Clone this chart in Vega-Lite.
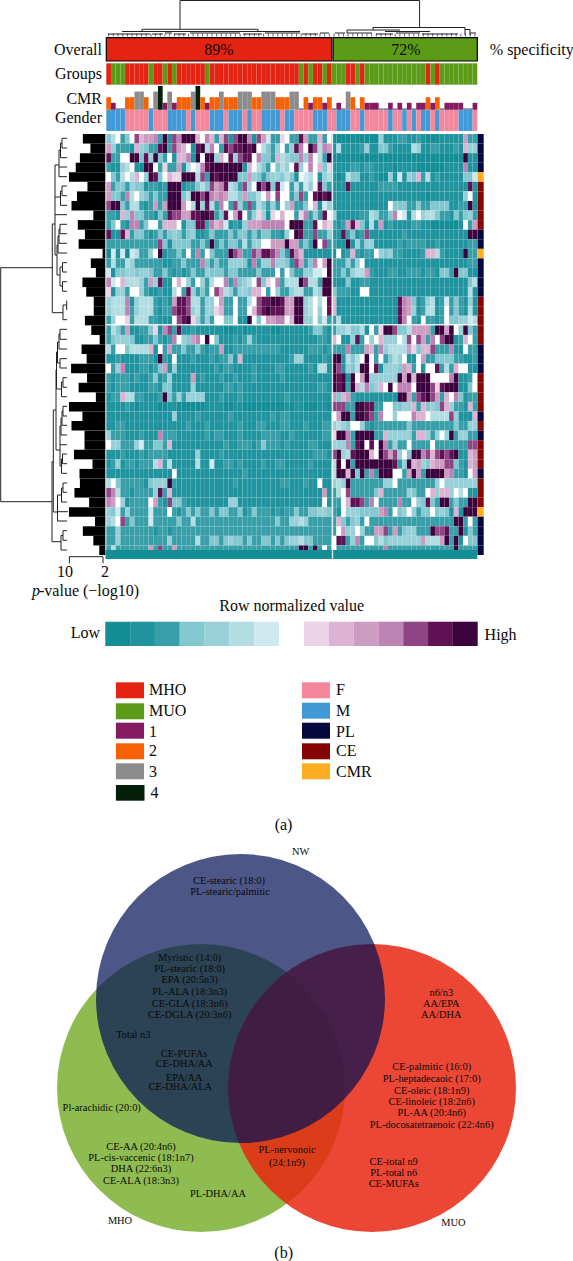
{"$schema":"https://vega.github.io/schema/vega-lite/v6.json","width":573,"height":1261,"padding":0,"autosize":{"type":"fit","contains":"padding"},"background":"#ffffff","config":{"view":{"stroke":null},"text":{"font":"Liberation Serif","fill":"#0a0a0a"}},
"datasets":{
"rows":[
{"r":1,"p":6.8,"cls":"PL","v":[4,6,8,3,4,8,13,10,11,11,12,3,15,2,13,12,15,15,15,10,8,12,10,3,10,13,2,13,15,15,12,2,13,11,7,3,3,9,8,3,3,14,11,3,3,10,3,8,1,1,1,1,1,1,1,1,1,1,5,2,2,2,3,3,2,2,3,2,1,1,1,2,2,2,2,2,11,3,3]},
{"r":2,"p":5.0,"cls":"PL","v":[11,5,3,3,3,2,10,5,4,3,3,14,15,3,13,11,10,8,2,14,15,6,12,8,3,14,13,14,14,15,14,15,8,6,4,3,5,8,3,5,14,12,8,15,13,6,12,11,2,6,2,2,2,2,3,5,2,2,4,4,3,2,2,2,2,6,5,2,2,3,3,2,2,2,3,2,10,5,5]},
{"r":3,"p":7.5,"cls":"PL","v":[14,3,3,8,8,15,15,4,14,5,15,4,3,8,2,10,10,12,2,15,8,15,15,5,10,8,14,5,13,14,14,8,12,4,4,3,10,6,5,4,4,12,5,12,8,6,3,15,1,1,1,1,1,1,1,1,1,1,1,1,1,1,1,1,1,1,1,1,1,1,1,1,1,1,1,1,15,2,2]},
{"r":4,"p":8.5,"cls":"PL","v":[3,2,2,5,6,8,2,1,15,15,8,3,9,3,3,11,2,6,8,7,12,14,15,15,15,15,15,15,15,2,10,8,6,4,3,8,4,6,5,8,14,5,8,12,8,10,4,9,2,2,2,2,3,3,2,3,3,2,2,2,2,1,2,2,2,2,1,1,1,1,1,1,2,2,2,2,12,2,2]},
{"r":5,"p":10.1,"cls":"CMR","v":[8,4,3,6,8,6,10,8,5,15,14,4,8,10,9,9,15,15,15,6,13,3,15,14,15,15,15,15,4,4,11,5,4,3,4,5,5,4,6,4,2,8,7,6,8,2,5,6,2,1,2,6,4,4,2,2,3,2,1,1,5,2,7,2,5,4,10,3,6,2,3,2,2,2,2,2,4,4,7]},
{"r":6,"p":5.7,"cls":"CE","v":[11,3,4,4,3,5,4,4,2,3,3,2,3,15,15,15,2,3,3,4,6,4,13,11,12,14,6,5,3,13,5,8,15,13,15,4,14,7,8,3,6,3,7,5,8,14,4,3,2,2,2,14,2,2,2,2,2,2,3,3,3,3,2,2,2,2,2,2,2,2,2,2,2,2,2,2,2,14,2]},
{"r":7,"p":8.2,"cls":"CE","v":[11,4,4,3,12,6,8,5,4,3,4,3,3,15,15,15,4,6,15,15,13,15,12,11,12,11,6,6,4,11,4,4,6,8,11,8,13,8,8,3,4,13,3,8,14,15,14,15,2,2,2,2,2,2,2,2,2,2,2,2,2,2,2,2,2,2,2,2,1,2,2,2,2,2,2,2,5,8,2]},
{"r":8,"p":9.5,"cls":"CE","v":[13,15,15,4,3,6,6,3,2,3,11,3,11,15,15,15,11,8,6,15,5,14,6,3,12,8,3,13,5,3,13,3,6,4,3,5,3,8,5,11,3,3,4,8,10,2,7,5,2,2,2,2,2,2,2,2,2,2,2,2,8,4,4,4,3,3,4,3,3,4,4,4,4,2,2,3,3,15,2]},
{"r":9,"p":4.3,"cls":"CE","v":[3,3,2,10,5,12,4,4,3,3,2,4,3,14,13,13,11,11,14,14,15,15,14,3,4,14,8,11,14,8,3,5,9,5,2,9,8,10,8,8,3,9,12,3,5,3,14,8,5,2,2,2,2,2,3,3,6,5,3,3,4,12,8,7,2,6,8,5,6,6,4,3,3,2,4,3,4,5,3]},
{"r":10,"p":8.0,"cls":"CE","v":[3,4,8,3,2,12,12,3,4,8,8,3,10,10,10,8,2,4,4,14,14,3,12,10,11,7,2,3,2,5,11,11,11,12,12,12,12,12,8,15,15,15,3,3,14,8,10,9,3,2,3,11,14,10,4,2,6,2,11,2,3,2,2,2,2,3,3,2,2,1,1,1,1,1,1,2,8,3,11]},
{"r":11,"p":6.3,"cls":"PL","v":[14,2,2,14,10,3,4,4,3,2,3,4,3,4,5,4,3,4,5,2,2,3,4,3,3,3,4,3,4,4,3,4,3,4,4,3,3,2,5,8,15,14,3,3,13,3,3,5,2,2,14,3,4,2,3,13,2,2,2,2,2,2,2,3,2,2,2,2,2,2,2,2,2,2,2,2,2,15,15]},
{"r":12,"p":7.8,"cls":"PL","v":[3,3,3,3,3,3,3,3,3,3,3,13,4,2,4,4,4,4,3,3,4,3,15,3,4,3,4,4,3,6,3,5,5,8,8,11,11,11,15,11,11,3,4,3,15,8,13,3,3,2,2,15,2,5,3,5,5,2,2,2,2,2,3,2,3,3,3,3,2,2,3,2,2,2,2,2,2,3,3]},
{"r":13,"p":2.1,"cls":"CMR","v":[1,7,2,7,1,7,6,3,3,5,8,15,2,3,3,4,3,8,3,12,3,8,4,3,3,3,15,13,12,3,3,13,12,14,14,13,12,4,3,14,12,10,2,2,2,2,2,2,2,8,2,3,10,3,2,3,3,8,5,4,5,3,3,2,2,2,2,3,10,10,6,3,2,2,2,2,15,3,3]},
{"r":14,"p":4.9,"cls":"PL","v":[3,6,3,3,6,5,3,3,3,3,3,3,2,2,3,3,4,3,3,3,12,4,3,4,3,3,5,5,5,4,2,12,3,5,5,12,5,5,4,2,13,11,3,4,12,8,11,15,3,3,3,5,3,5,8,2,2,2,2,2,2,2,2,2,2,2,2,2,2,2,2,2,2,2,2,2,2,3,3]},
{"r":15,"p":3.7,"cls":"PL","v":[7,2,4,4,5,5,4,5,5,4,3,3,4,3,2,3,2,3,4,3,3,5,4,4,4,3,4,4,3,3,3,3,4,3,3,3,8,3,8,4,3,3,5,5,7,7,8,15,3,3,4,3,5,6,6,11,3,2,2,2,3,3,2,2,3,3,3,2,3,3,2,4,4,3,15,4,4,2,2]},
{"r":16,"p":6.9,"cls":"PL","v":[12,7,8,10,6,6,6,5,3,11,5,14,2,2,8,10,8,5,3,8,5,3,6,8,8,12,3,12,4,5,6,8,13,4,9,8,12,3,6,6,6,15,13,6,6,3,15,15,2,2,2,4,2,2,3,3,2,2,2,2,2,2,2,2,2,2,2,2,2,2,2,2,2,2,2,2,2,4,6]},
{"r":17,"p":6.0,"cls":"PL","v":[9,2,5,5,3,8,8,5,3,2,2,3,2,2,6,8,3,14,5,3,4,3,8,13,11,6,5,3,5,5,4,10,10,8,3,8,5,3,3,5,6,6,3,3,6,5,15,15,4,3,3,3,2,2,8,8,2,2,2,2,2,2,2,2,2,2,2,2,2,2,2,2,2,2,2,2,2,6,2]},
{"r":18,"p":4.2,"cls":"CE","v":[5,6,6,6,12,2,5,6,6,6,3,2,3,2,11,14,14,13,6,6,3,5,5,8,11,3,3,8,3,3,6,8,13,14,14,15,15,14,11,11,15,15,5,6,8,6,8,14,10,2,2,2,2,2,2,2,2,2,2,2,2,2,14,12,11,4,2,3,5,6,2,3,7,3,4,3,2,5,2]},
{"r":19,"p":4.2,"cls":"CE","v":[5,6,6,6,12,3,5,6,6,6,3,2,3,3,13,14,14,13,5,6,3,5,5,9,10,3,3,8,3,3,8,10,13,14,15,14,14,14,11,11,15,15,5,6,8,5,8,14,10,2,2,2,2,2,2,2,2,2,2,2,2,2,14,12,11,5,2,3,6,6,2,3,8,3,4,3,2,6,2]},
{"r":20,"p":6.3,"cls":"CE","v":[3,5,8,8,9,3,6,6,6,3,3,2,2,2,8,13,14,15,9,5,3,5,3,8,8,4,4,8,2,2,15,8,4,8,11,11,12,12,8,10,15,15,5,5,8,4,7,3,3,6,2,2,2,2,2,2,2,2,2,2,2,2,14,12,8,3,2,8,3,3,2,3,8,4,4,5,5,7,6]},
{"r":21,"p":4.8,"cls":"CE","v":[3,6,4,3,11,2,2,3,3,4,9,2,12,13,3,14,2,2,3,2,2,2,2,2,2,1,1,2,2,1,2,2,2,2,2,1,1,2,2,2,2,2,2,3,4,4,3,2,3,5,5,6,4,4,6,2,8,3,9,15,15,13,4,4,6,11,11,11,11,3,15,15,11,15,8,5,15,4,3]},
{"r":22,"p":2.8,"cls":"CE","v":[3,4,5,5,5,4,2,2,3,3,4,3,2,3,12,8,5,4,11,12,8,15,8,4,2,2,2,3,2,3,5,3,2,2,2,2,2,2,2,2,2,2,2,2,2,3,3,2,10,8,2,2,5,14,3,8,5,8,10,5,5,5,8,6,13,8,13,11,3,12,8,13,15,15,2,3,10,8,3]},
{"r":23,"p":7.1,"cls":"PL","v":[6,3,8,8,4,6,6,6,6,10,2,8,3,11,3,3,4,3,3,4,3,2,3,3,11,2,2,3,3,3,3,3,3,3,3,3,3,2,2,2,2,2,2,3,3,3,2,3,3,3,3,12,3,3,3,11,10,3,12,5,6,6,6,6,11,9,4,10,10,13,3,3,3,12,2,2,8,3,3]},
{"r":24,"p":5.9,"cls":"PL","v":[2,2,3,2,2,2,2,3,3,3,2,15,3,2,8,2,2,2,3,2,2,2,3,2,3,3,4,2,10,2,2,2,2,2,2,2,2,2,2,3,5,5,2,2,2,2,3,2,15,15,2,6,4,6,8,15,8,3,8,3,4,6,5,8,2,2,8,11,3,3,4,4,4,4,3,3,2,2,3]},
{"r":25,"p":9.6,"cls":"PL","v":[8,3,5,12,2,2,2,3,3,2,3,4,11,2,5,2,2,2,2,2,2,2,2,3,2,3,3,2,2,2,2,3,2,2,2,2,3,3,2,2,2,2,2,3,2,6,6,2,15,13,2,5,4,6,15,15,8,14,2,5,5,5,4,11,10,3,8,2,8,8,14,3,6,3,10,8,8,2,2]},
{"r":26,"p":5.8,"cls":"CE","v":[3,2,3,3,3,2,3,2,2,3,4,2,3,5,2,2,2,2,11,2,3,2,2,2,3,2,2,3,2,2,2,3,2,2,2,2,2,3,2,2,2,2,2,2,2,2,2,2,15,14,15,2,15,8,11,15,5,5,5,5,5,5,15,11,15,10,15,15,15,8,8,8,8,12,15,2,2,3,8]},
{"r":27,"p":7.8,"cls":"CE","v":[3,2,3,3,3,2,2,2,2,3,3,2,4,4,2,2,2,2,5,2,2,2,2,2,2,3,3,2,3,2,2,2,2,2,2,2,2,2,2,2,2,2,2,2,2,3,3,2,15,14,15,3,15,10,6,12,4,5,10,8,15,8,12,12,12,8,15,15,15,13,9,14,15,15,15,2,2,4,8]},
{"r":28,"p":3.7,"cls":"CE","v":[2,3,3,10,6,6,3,3,2,2,2,3,15,4,3,5,3,5,5,5,5,2,2,2,3,2,2,2,3,2,2,2,2,2,2,2,2,2,3,2,2,2,2,2,2,2,2,2,11,4,10,11,3,2,2,2,2,2,2,2,2,2,15,15,11,3,13,14,15,13,11,3,10,8,12,4,2,3,3]},
{"r":29,"p":10.1,"cls":"CE","v":[2,2,2,2,3,2,1,2,2,2,2,1,1,2,2,1,1,1,1,1,1,2,2,2,2,1,1,2,2,1,1,1,1,1,1,1,1,1,2,1,2,2,1,1,1,2,2,1,13,13,13,3,3,15,15,14,14,3,3,8,8,4,4,5,5,10,3,10,4,5,4,13,10,5,3,3,2,10,3]},
{"r":30,"p":6.9,"cls":"PL","v":[2,2,2,2,2,2,2,2,2,2,2,2,2,2,5,2,2,2,2,3,2,2,2,2,2,2,3,2,2,2,2,2,2,2,2,3,2,3,3,2,2,2,2,2,2,2,2,2,8,11,15,15,3,15,15,14,13,3,12,8,8,5,8,8,8,12,10,10,8,6,6,6,6,13,5,2,2,2,10]},
{"r":31,"p":9.5,"cls":"CE","v":[2,2,3,3,2,2,2,2,2,2,2,2,2,2,2,2,2,3,2,2,2,3,2,2,2,2,2,2,3,2,2,2,3,3,2,2,2,3,3,2,2,2,3,2,2,2,3,3,5,6,5,4,8,8,5,3,2,3,3,3,3,3,3,3,4,3,3,3,3,3,3,3,3,3,4,3,3,5,5]},
{"r":32,"p":6.4,"cls":"PL","v":[5,3,3,3,2,2,2,3,2,2,2,12,3,3,3,2,2,2,2,2,2,3,2,3,3,2,2,2,3,2,2,2,2,3,3,3,3,2,2,3,2,2,2,2,2,2,3,3,9,15,15,12,3,15,15,15,15,3,3,10,5,5,5,5,5,3,10,10,5,3,5,8,5,15,3,5,5,3,3]},
{"r":33,"p":6.4,"cls":"CE","v":[8,5,5,3,3,3,5,7,3,3,4,4,3,10,2,2,2,2,2,2,2,2,2,2,2,3,2,2,3,3,3,2,3,4,3,3,3,2,3,2,2,2,2,3,3,2,2,2,5,5,5,12,3,14,15,8,14,8,15,12,3,5,3,3,8,3,3,3,3,8,3,3,3,3,3,3,3,13,13]},
{"r":34,"p":8.9,"cls":"CE","v":[2,2,2,3,2,2,2,3,2,3,3,3,3,2,2,2,2,2,2,5,2,2,2,2,3,2,2,2,2,2,2,2,2,2,2,2,2,2,2,2,2,2,2,2,3,3,3,2,13,15,5,6,14,15,15,15,10,8,15,13,11,13,5,8,4,15,15,12,13,10,13,14,13,14,15,2,2,10,11]},
{"r":35,"p":4.5,"cls":"CE","v":[2,3,5,2,3,3,2,3,3,3,6,10,3,6,2,2,2,2,2,6,2,2,7,2,2,3,3,2,3,2,2,2,2,3,2,2,3,3,2,2,2,2,2,3,2,2,2,2,6,15,8,15,3,15,15,15,15,15,15,15,15,14,3,5,15,10,11,5,4,10,11,11,13,13,4,3,2,10,11]},
{"r":36,"p":7.6,"cls":"PL","v":[2,2,2,2,2,2,2,2,2,2,2,2,2,2,8,2,2,2,2,2,2,2,2,2,2,2,2,2,2,3,2,2,2,2,2,2,2,2,2,2,2,2,2,2,2,2,2,2,6,15,15,10,15,4,15,3,12,3,15,15,15,8,8,3,11,15,11,3,15,15,15,15,11,12,3,3,2,8,11]},
{"r":37,"p":7.5,"cls":"CE","v":[6,8,4,3,3,3,3,3,2,4,5,5,5,15,3,2,2,2,2,2,2,2,2,2,2,2,2,3,2,2,2,2,2,2,2,2,2,3,3,2,2,2,3,2,2,8,2,2,5,6,5,15,3,3,3,3,3,3,3,5,5,8,3,3,3,3,3,3,3,3,5,8,5,5,5,5,5,5,5]},
{"r":38,"p":8.8,"cls":"CE","v":[13,12,6,3,3,2,3,3,3,3,5,14,3,10,2,2,2,2,2,2,2,2,2,2,2,2,2,2,2,2,2,2,2,2,2,2,2,2,2,2,2,2,2,2,2,2,11,2,3,6,8,13,3,3,3,3,3,4,10,3,3,3,3,3,5,4,3,3,8,10,5,10,10,5,8,6,8,2,2]},
{"r":39,"p":5.3,"cls":"CE","v":[12,11,8,5,2,3,3,3,3,8,11,3,2,13,4,4,3,2,2,2,2,2,2,2,2,2,5,5,2,2,2,2,2,2,2,2,2,2,2,2,2,2,2,2,2,2,8,2,3,3,8,10,14,14,13,3,12,8,3,3,3,3,12,3,3,8,5,4,14,4,3,15,15,3,4,3,3,15,15]},
{"r":40,"p":10.1,"cls":"CMR","v":[5,4,7,3,5,3,3,3,3,7,3,3,3,8,3,2,3,4,3,4,3,3,4,3,4,4,3,3,4,2,3,4,3,3,3,2,3,2,3,3,4,3,3,4,4,5,5,4,3,2,8,5,5,5,4,4,4,4,11,12,3,8,4,5,8,5,3,4,4,8,4,5,4,2,10,2,15,15,15]},
{"r":41,"p":3.9,"cls":"PL","v":[5,6,8,13,3,4,3,3,3,7,3,3,3,3,3,4,3,3,6,3,3,3,3,3,3,3,3,3,3,3,3,3,3,3,3,3,4,3,3,5,5,6,5,3,3,3,3,3,3,10,4,3,4,5,3,8,3,3,3,3,3,3,3,3,3,3,3,3,3,3,3,3,3,3,15,15,3,8,3]},
{"r":42,"p":6.8,"cls":"PL","v":[3,3,5,3,3,3,3,3,3,3,2,3,3,2,3,3,3,3,3,3,3,3,3,3,3,3,3,3,3,3,3,3,3,3,3,3,3,3,3,3,3,3,3,3,3,3,3,3,3,8,11,5,5,8,5,3,3,11,11,13,3,11,3,4,5,5,3,3,3,15,13,13,14,3,3,15,2,4,3]},
{"r":43,"p":4.3,"cls":"PL","v":[3,3,5,3,3,3,3,3,3,3,3,3,3,5,3,3,3,3,3,6,3,3,4,4,3,4,5,4,4,3,4,3,3,4,4,3,4,3,4,5,5,6,4,4,3,3,3,3,8,14,14,3,5,12,3,8,8,4,6,4,5,5,5,5,5,5,5,11,6,6,6,11,15,3,15,2,8,4,4]},
{"r":44,"p":2.9,"cls":"PL","v":[3,6,3,3,3,3,3,3,3,11,3,13,3,3,11,3,3,3,3,3,3,3,3,3,3,3,3,3,3,3,3,3,3,3,3,3,3,3,3,3,3,15,15,3,15,3,8,3,8,3,3,3,3,3,3,3,3,3,3,12,3,3,3,3,3,3,3,3,3,3,3,3,3,3,15,3,3,3,3]}
],
"cols":[
{"c":1,"g":"MHO","k":2,"s":"M"},{"c":2,"g":"MUO","k":1,"s":"M"},{"c":3,"g":"MUO","k":0,"s":"M"},{"c":4,"g":"MUO","k":0,"s":"M"},{"c":5,"g":"MHO","k":2,"s":"F"},{"c":6,"g":"MHO","k":2,"s":"F"},{"c":7,"g":"MHO","k":3,"s":"F"},{"c":8,"g":"MHO","k":3,"s":"F"},{"c":9,"g":"MHO","k":2,"s":"F"},{"c":10,"g":"MUO","k":0,"s":"M"},
{"c":11,"g":"MHO","k":3,"s":"F"},{"c":12,"g":"MHO","k":4,"s":"F"},{"c":13,"g":"MUO","k":1,"s":"F"},{"c":14,"g":"MHO","k":3,"s":"M"},{"c":15,"g":"MUO","k":1,"s":"M"},{"c":16,"g":"MHO","k":2,"s":"M"},{"c":17,"g":"MHO","k":2,"s":"M"},{"c":18,"g":"MHO","k":2,"s":"F"},{"c":19,"g":"MHO","k":3,"s":"M"},{"c":20,"g":"MHO","k":4,"s":"F"},
{"c":21,"g":"MHO","k":2,"s":"F"},{"c":22,"g":"MUO","k":1,"s":"F"},{"c":23,"g":"MHO","k":2,"s":"M"},{"c":24,"g":"MHO","k":2,"s":"M"},{"c":25,"g":"MHO","k":3,"s":"M"},{"c":26,"g":"MHO","k":2,"s":"F"},{"c":27,"g":"MHO","k":2,"s":"M"},{"c":28,"g":"MHO","k":2,"s":"M"},{"c":29,"g":"MHO","k":3,"s":"M"},{"c":30,"g":"MHO","k":3,"s":"F"},
{"c":31,"g":"MHO","k":3,"s":"M"},{"c":32,"g":"MHO","k":2,"s":"F"},{"c":33,"g":"MHO","k":2,"s":"F"},{"c":34,"g":"MHO","k":3,"s":"M"},{"c":35,"g":"MHO","k":3,"s":"M"},{"c":36,"g":"MHO","k":3,"s":"M"},{"c":37,"g":"MHO","k":2,"s":"M"},{"c":38,"g":"MHO","k":2,"s":"F"},{"c":39,"g":"MHO","k":2,"s":"M"},{"c":40,"g":"MHO","k":3,"s":"M"},
{"c":41,"g":"MHO","k":3,"s":"F"},{"c":42,"g":"MUO","k":0,"s":"F"},{"c":43,"g":"MHO","k":2,"s":"F"},{"c":44,"g":"MUO","k":1,"s":"F"},{"c":45,"g":"MHO","k":2,"s":"M"},{"c":46,"g":"MHO","k":2,"s":"M"},{"c":47,"g":"MUO","k":1,"s":"M"},{"c":48,"g":"MHO","k":2,"s":"F"},{"c":49,"g":"MUO","k":0,"s":"F"},{"c":50,"g":"MUO","k":1,"s":"M"},
{"c":51,"g":"MUO","k":0,"s":"M"},{"c":52,"g":"MHO","k":3,"s":"M"},{"c":53,"g":"MHO","k":2,"s":"F"},{"c":54,"g":"MUO","k":0,"s":"F"},{"c":55,"g":"MHO","k":2,"s":"M"},{"c":56,"g":"MUO","k":1,"s":"F"},{"c":57,"g":"MUO","k":1,"s":"F"},{"c":58,"g":"MUO","k":1,"s":"F"},{"c":59,"g":"MUO","k":0,"s":"F"},{"c":60,"g":"MUO","k":0,"s":"F"},
{"c":61,"g":"MUO","k":1,"s":"M"},{"c":62,"g":"MUO","k":0,"s":"F"},{"c":63,"g":"MUO","k":1,"s":"F"},{"c":64,"g":"MUO","k":0,"s":"M"},{"c":65,"g":"MUO","k":1,"s":"F"},{"c":66,"g":"MUO","k":0,"s":"M"},{"c":67,"g":"MUO","k":1,"s":"F"},{"c":68,"g":"MUO","k":1,"s":"M"},{"c":69,"g":"MHO","k":2,"s":"M"},{"c":70,"g":"MUO","k":1,"s":"F"},
{"c":71,"g":"MHO","k":2,"s":"M"},{"c":72,"g":"MUO","k":0,"s":"F"},{"c":73,"g":"MUO","k":1,"s":"F"},{"c":74,"g":"MUO","k":1,"s":"F"},{"c":75,"g":"MUO","k":1,"s":"F"},{"c":76,"g":"MUO","k":1,"s":"M"},{"c":77,"g":"MUO","k":0,"s":"M"},{"c":78,"g":"MUO","k":0,"s":"M"},{"c":79,"g":"MUO","k":1,"s":"F"}
],
"levels":[{"v":1},{"v":2},{"v":3},{"v":4},{"v":5},{"v":6},{"v":7},{"v":8},{"v":9},{"v":10},{"v":11},{"v":12},{"v":13},{"v":14},{"v":15}],
"boxes":[
{"cat":"MHO","x":115.9,"x2":144,"y":682.3,"y2":698.3},{"cat":"MUO","x":115.9,"x2":144,"y":703.3,"y2":719.3},{"cat":"1","x":115.9,"x2":144,"y":722.7,"y2":738.7},{"cat":"2","x":115.9,"x2":144,"y":743.3,"y2":759.3},{"cat":"3","x":115.9,"x2":144,"y":763.3,"y2":779.3},{"cat":"4","x":115.9,"x2":144.5,"y":785,"y2":800.7},
{"cat":"F","x":302,"x2":330,"y":682.3,"y2":698.3},{"cat":"M","x":302,"x2":330,"y":702.7,"y2":718.7},{"cat":"PL","x":302,"x2":330,"y":722.7,"y2":738.7},{"cat":"CE","x":302,"x2":330,"y":743.3,"y2":759.3},{"cat":"CMR","x":302,"x2":330,"y":763.3,"y2":779.3},
{"cat":"band","x":105.5,"x2":477.3,"y":550,"y2":559}],
"overall":[{"cat":"MHO","x":106.3,"x2":331.8,"y":37.6,"y2":61},{"cat":"MUO","x":333.2,"x2":477.3,"y":37.6,"y2":61}],
"segs":[
{"x":180,"y":0.5,"x2":419.6,"y2":0.5},{"x":180,"y":0.5,"x2":180,"y2":29},{"x":419.6,"y":0.5,"x2":419.6,"y2":27.5},
{"x":142,"y":29.3,"x2":258,"y2":29.3},{"x":142,"y":29.3,"x2":142,"y2":31.5},{"x":258,"y":29.3,"x2":258,"y2":31.5},{"x":122,"y":31.5,"x2":190,"y2":31.5},{"x":190,"y":31.5,"x2":300,"y2":31.5},
{"x":108,"y":34,"x2":150,"y2":34},{"x":152,"y":34,"x2":163,"y2":34},{"x":165,"y":33,"x2":172,"y2":33},{"x":174,"y":34,"x2":186,"y2":34},{"x":190,"y":33,"x2":240,"y2":33},{"x":243,"y":34,"x2":262,"y2":34},{"x":265,"y":33,"x2":300,"y2":33},{"x":302,"y":34,"x2":318,"y2":34},{"x":320,"y":33,"x2":329,"y2":33},
{"x":373,"y":27.5,"x2":465,"y2":27.5},{"x":373,"y":27.5,"x2":373,"y2":30},{"x":347,"y":30,"x2":400,"y2":30},{"x":347,"y":30,"x2":347,"y2":33},{"x":465,"y":27.5,"x2":465,"y2":35},{"x":470,"y":29.5,"x2":470,"y2":35},{"x":465,"y":29.5,"x2":470,"y2":29.5},{"x":385,"y":31.5,"x2":430,"y2":31.5},
{"x":335,"y":33,"x2":345,"y2":33},{"x":347,"y":33,"x2":372,"y2":33},{"x":376,"y":34,"x2":393,"y2":34},{"x":396,"y":33,"x2":420,"y2":33},{"x":422,"y":34,"x2":458,"y2":34},{"x":470,"y":33,"x2":476,"y2":33},
{"x":62,"y":138.3,"x2":67,"y2":138.3},{"x":62,"y":148,"x2":67,"y2":148},{"x":62,"y":138.3,"x2":62,"y2":148},{"x":60.5,"y":143,"x2":62,"y2":143},{"x":60.5,"y":143,"x2":60.5,"y2":157.7},{"x":60.5,"y":157.7,"x2":67,"y2":157.7},{"x":59,"y":150,"x2":60.5,"y2":150},{"x":59,"y":150,"x2":59,"y2":176.7},{"x":59,"y":167,"x2":67,"y2":167},{"x":59,"y":176.7,"x2":67,"y2":176.7},{"x":55,"y":165,"x2":59,"y2":165},{"x":55,"y":165,"x2":55,"y2":255},
{"x":62,"y":186,"x2":67,"y2":186},{"x":62,"y":195.7,"x2":67,"y2":195.7},{"x":62,"y":186,"x2":62,"y2":195.7},{"x":60.5,"y":191,"x2":62,"y2":191},{"x":60.5,"y":191,"x2":60.5,"y2":205.3},{"x":60.5,"y":205.3,"x2":67,"y2":205.3},{"x":55,"y":197,"x2":60.5,"y2":197},{"x":55,"y":214.7,"x2":67,"y2":214.7},
{"x":60,"y":224.3,"x2":67,"y2":224.3},{"x":60,"y":233.7,"x2":67,"y2":233.7},{"x":60,"y":224.3,"x2":60,"y2":233.7},{"x":59,"y":229,"x2":60,"y2":229},{"x":59,"y":229,"x2":59,"y2":243.3},{"x":59,"y":243.3,"x2":67,"y2":243.3},{"x":58,"y":236,"x2":59,"y2":236},{"x":58,"y":236,"x2":58,"y2":253},{"x":58,"y":253,"x2":67,"y2":253},{"x":57,"y":245,"x2":58,"y2":245},{"x":57,"y":245,"x2":57,"y2":275},{"x":55,"y":255,"x2":57,"y2":255},
{"x":62.5,"y":262.7,"x2":67,"y2":262.7},{"x":62.5,"y":272,"x2":67,"y2":272},{"x":62.5,"y":262.7,"x2":62.5,"y2":272},{"x":62.5,"y":281.7,"x2":67,"y2":281.7},{"x":62.5,"y":291.3,"x2":67,"y2":291.3},{"x":62.5,"y":281.7,"x2":62.5,"y2":291.3},{"x":60,"y":267,"x2":62.5,"y2":267},{"x":60,"y":286,"x2":62.5,"y2":286},{"x":60,"y":267,"x2":60,"y2":286},{"x":57,"y":275,"x2":60,"y2":275},
{"x":52.3,"y":224,"x2":55,"y2":224},{"x":52.3,"y":224,"x2":52.3,"y2":312.7},{"x":52.3,"y":312.7,"x2":63,"y2":312.7},{"x":63,"y":305,"x2":63,"y2":319.7},{"x":63,"y":305,"x2":66.7,"y2":305},{"x":66.7,"y":300.7,"x2":66.7,"y2":310},{"x":63,"y":319.7,"x2":67,"y2":319.7},
{"x":60,"y":329.3,"x2":67,"y2":329.3},{"x":60,"y":339.3,"x2":67,"y2":339.3},{"x":60,"y":329.3,"x2":60,"y2":339.3},{"x":59,"y":334,"x2":60,"y2":334},{"x":59,"y":334,"x2":59,"y2":349},{"x":59,"y":349,"x2":67,"y2":349},{"x":60,"y":358.7,"x2":67,"y2":358.7},{"x":60,"y":368,"x2":67,"y2":368},{"x":60,"y":358.7,"x2":60,"y2":368},{"x":57.5,"y":342,"x2":59,"y2":342},{"x":57.5,"y":342,"x2":57.5,"y2":363},{"x":57.5,"y":363,"x2":60,"y2":363},{"x":56.5,"y":352,"x2":57.5,"y2":352},{"x":56.5,"y":352,"x2":56.5,"y2":389},
{"x":63,"y":377.7,"x2":67,"y2":377.7},{"x":63,"y":387.3,"x2":67,"y2":387.3},{"x":63,"y":377.7,"x2":63,"y2":387.3},{"x":61.5,"y":382,"x2":63,"y2":382},{"x":61.5,"y":382,"x2":61.5,"y2":396.7},{"x":61.5,"y":396.7,"x2":67,"y2":396.7},{"x":56.5,"y":389,"x2":61.5,"y2":389},{"x":56,"y":370,"x2":56,"y2":450},
{"x":63,"y":406.3,"x2":67,"y2":406.3},{"x":63,"y":416,"x2":67,"y2":416},{"x":63,"y":406.3,"x2":63,"y2":416},{"x":62,"y":411,"x2":63,"y2":411},{"x":62,"y":411,"x2":62,"y2":425.3},{"x":62,"y":425.3,"x2":67,"y2":425.3},{"x":61,"y":418,"x2":62,"y2":418},{"x":61,"y":418,"x2":61,"y2":435},{"x":61,"y":435,"x2":67,"y2":435},{"x":60,"y":426,"x2":61,"y2":426},{"x":60,"y":426,"x2":60,"y2":466},{"x":60,"y":444.7,"x2":67,"y2":444.7},
{"x":62.5,"y":454,"x2":67,"y2":454},{"x":62.5,"y":463.7,"x2":67,"y2":463.7},{"x":62.5,"y":454,"x2":62.5,"y2":463.7},{"x":61.5,"y":459,"x2":62.5,"y2":459},{"x":61.5,"y":459,"x2":61.5,"y2":473.3},{"x":61.5,"y":473.3,"x2":67,"y2":473.3},{"x":60,"y":466,"x2":61.5,"y2":466},{"x":56,"y":450,"x2":60,"y2":450},{"x":53.3,"y":410,"x2":56,"y2":410},{"x":53.3,"y":410,"x2":53.3,"y2":512},
{"x":63,"y":483,"x2":67,"y2":483},{"x":63,"y":492.3,"x2":67,"y2":492.3},{"x":63,"y":483,"x2":63,"y2":492.3},{"x":61.5,"y":488,"x2":63,"y2":488},{"x":61.5,"y":488,"x2":61.5,"y2":502},{"x":61.5,"y":502,"x2":67,"y2":502},{"x":57.5,"y":495,"x2":61.5,"y2":495},{"x":57.5,"y":495,"x2":57.5,"y2":521},{"x":57.5,"y":511.7,"x2":68,"y2":511.7},{"x":57.5,"y":521,"x2":67,"y2":521},{"x":53.3,"y":512,"x2":57.5,"y2":512},
{"x":63,"y":530.7,"x2":67,"y2":530.7},{"x":63,"y":540.3,"x2":67,"y2":540.3},{"x":63,"y":530.7,"x2":63,"y2":540.3},{"x":61,"y":535.5,"x2":63,"y2":535.5},{"x":61,"y":535.5,"x2":61,"y2":550},{"x":61,"y":550,"x2":67,"y2":550},{"x":52,"y":541.7,"x2":61,"y2":541.7},{"x":52,"y":461.7,"x2":52,"y2":541.7},{"x":52,"y":461.7,"x2":53.3,"y2":461.7},
{"x":0.7,"y":267.7,"x2":0.7,"y2":501.7},{"x":0.7,"y":267.7,"x2":52.3,"y2":267.7},{"x":0.7,"y":501.7,"x2":52,"y2":501.7},
{"x":69.4,"y":556.7,"x2":103,"y2":556.7},{"x":69.4,"y":556.7,"x2":69.4,"y2":563.3},{"x":103,"y":556.7,"x2":103,"y2":563.3}],
"gaps":[{"x":332.5,"y":134,"x2":332.5,"y2":559},{"x":106,"y":324.6,"x2":477.5,"y2":324.6}],
"rightLabels":[{"t":"Overall","x":102,"y":50},{"t":"Groups","x":102,"y":74},{"t":"CMR","x":102,"y":99},{"t":"Gender","x":102,"y":118},{"t":"Low","x":100,"y":632.7}],
"leftLabels":[{"t":"% specificity","x":489.8,"y":50},{"t":"High","x":484.6,"y":634.7},{"t":"MHO","x":149,"y":690},{"t":"MUO","x":149,"y":710.7},{"t":"1","x":149,"y":731.7},{"t":"2","x":149,"y":750.7},{"t":"3","x":149,"y":771.7},{"t":"4","x":150.6,"y":793},{"t":"F","x":336,"y":690},{"t":"M","x":336,"y":710.7},{"t":"PL","x":336,"y":731.7},{"t":"CE","x":336,"y":750.7},{"t":"CMR","x":336,"y":771.7},{"t":"-value (−log10)","x":39,"y":591}],
"centerLabels":[{"t":"89%","x":219,"y":50},{"t":"72%","x":406,"y":50},{"t":"10","x":65,"y":572},{"t":"2","x":105,"y":572},{"t":"Row normalized value","x":291.7,"y":605.7},{"t":"(a)","x":283.5,"y":825},{"t":"(b)","x":283.7,"y":1252.7}],
"vennLabels":[{"t":"NW","x":300.7,"y":851.7},{"t":"CE-stearic (18:0)","x":229,"y":880.7},{"t":"PL-stearic/palmitic","x":230,"y":891.7},{"t":"Myristic (14:0)","x":189.7,"y":957.7},{"t":"PL-stearic (18:0)","x":189.7,"y":969.3},{"t":"EPA (20:5n3)","x":189.7,"y":980.3},{"t":"PL-ALA (18:3n3)","x":189.7,"y":991.7},{"t":"CE-GLA (18:3n6)","x":189.7,"y":1003.7},{"t":"CE-DGLA (20:3n6)","x":189.7,"y":1014.7},{"t":"Total n3","x":133.3,"y":1034.7},{"t":"CE-PUFAs","x":184,"y":1053.7},{"t":"n6/n3","x":441.3,"y":992.7},{"t":"AA/EPA","x":441.3,"y":1003.7},{"t":"AA/DHA","x":441.3,"y":1014.7},{"t":"CE-DHA/AA","x":184.3,"y":1064.3},{"t":"EPA/AA","x":184.3,"y":1078.3},{"t":"CE-DHA/ALA","x":180.3,"y":1087.3},{"t":"Pl-arachidic (20:0)","x":101.7,"y":1107.7},{"t":"CE-AA (20:4n6)","x":141,"y":1146.7},{"t":"PL-cis-vaccenic (18:1n7)","x":141,"y":1157.7},{"t":"DHA (22:6n3)","x":141,"y":1168.7},{"t":"CE-ALA (18:3n3)","x":141,"y":1180.7},{"t":"PL-DHA/AA","x":218,"y":1193.7},{"t":"MHO","x":120,"y":1220.7},{"t":"PL-nervonoic","x":287,"y":1149.7},{"t":"(24:1n9)","x":287,"y":1162.7},{"t":"CE-palmitic (16:0)","x":431.7,"y":1066.7},{"t":"PL-heptadecaoic (17:0)","x":431.7,"y":1078.7},{"t":"CE-oleic (18:1n9)","x":431.7,"y":1090.7},{"t":"CE-linoleic (18:2n6)","x":431.7,"y":1101.7},{"t":"PL-AA (20:4n6)","x":431.7,"y":1112.7},{"t":"PL-docosatetraenoic (22:4n6)","x":431.7,"y":1124.7},{"t":"CE-total n9","x":393.7,"y":1161.7},{"t":"PL-total n6","x":393.7,"y":1172.7},{"t":"CE-MUFAs","x":393.7,"y":1183.7},{"t":"MUO","x":453.3,"y":1222.7}]
},
"resolve":{"scale":{"x":"independent","y":"independent","color":"independent"}},
"layer":[
{"data":{"values":[{"set":"MHO","cx":201,"cy":1088}]},"mark":{"type":"point","filled":true,"size":82944,"shape":"circle","color":"#8fbc50","opacity":1,"strokeWidth":0},"encoding":{"x":{"field":"cx","type":"quantitative","scale":{"domain":[0,573],"range":[0,573]},"axis":null},"y":{"field":"cy","type":"quantitative","scale":{"domain":[0,1261],"range":[0,1261]},"axis":null}}},
{"data":{"values":[{"set":"MUO","cx":372,"cy":1088}]},"mark":{"type":"point","filled":true,"size":82944,"shape":"circle","color":"#e92611","opacity":0.85,"strokeWidth":0},"encoding":{"x":{"field":"cx","type":"quantitative","scale":{"domain":[0,573],"range":[0,573]},"axis":null},"y":{"field":"cy","type":"quantitative","scale":{"domain":[0,1261],"range":[0,1261]},"axis":null}}},
{"data":{"values":[{"set":"NW","cx":240.5,"cy":998.5}]},"mark":{"type":"point","filled":true,"size":83521,"shape":"circle","color":"#001055","opacity":0.7,"strokeWidth":0},"encoding":{"x":{"field":"cx","type":"quantitative","scale":{"domain":[0,573],"range":[0,573]},"axis":null},"y":{"field":"cy","type":"quantitative","scale":{"domain":[0,1261],"range":[0,1261]},"axis":null}}},
{"data":{"name":"rows"},"transform":[{"flatten":["v"]},{"window":[{"op":"row_number","as":"c"}],"groupby":["r"]}],"mark":{"type":"rect","stroke":"#ffffff","strokeOpacity":0.08,"strokeWidth":0.5},"encoding":{"x":{"field":"c","type":"ordinal","scale":{"range":[106.3,477.3]},"axis":null},"y":{"field":"r","type":"ordinal","scale":{"range":[134,555]},"axis":null},"color":{"field":"v","type":"ordinal","scale":{"domain":[1,2,3,4,5,6,7,8,9,10,11,12,13,14,15],"range":["#138d96","#1f949e","#389fa8","#83c7d0","#98d0d9","#b2dde3","#cee9ef","#ffffff","#ecd3e6","#ddb3d3","#cc9cc3","#bd83b5","#8f4484","#5f1253","#3c023d"]},"legend":null}}},
{"data":{"name":"rows"},"mark":{"type":"rect"},"encoding":{"x":{"field":"p","type":"quantitative","scale":{"domain":[10,2],"range":[69.4,103]},"axis":null},"x2":{"datum":1.45},"y":{"field":"r","type":"ordinal","scale":{"range":[134,555]},"axis":null},"color":{"value":"#000000"}}},
{"data":{"name":"rows"},"mark":{"type":"rect"},"encoding":{"x":{"datum":477.5,"type":"quantitative","scale":{"domain":[0,573],"range":[0,573]},"axis":null},"x2":{"datum":483.7},"y":{"field":"r","type":"ordinal","scale":{"range":[134,555]},"axis":null},"color":{"field":"cls","type":"nominal","scale":{"domain":["PL","CE","CMR"],"range":["#06073f","#850505","#fdad22"]},"legend":null}}},
{"data":{"name":"cols"},"mark":{"type":"rect","stroke":"#ffffff","strokeOpacity":0.1,"strokeWidth":0.5},"encoding":{"x":{"field":"c","type":"ordinal","scale":{"range":[106.3,477.3]},"axis":null},"y":{"datum":63.3,"type":"quantitative","scale":{"domain":[0,1261],"range":[0,1261]},"axis":null},"y2":{"datum":84.7},"color":{"field":"g","type":"nominal","scale":{"domain":["MHO","MUO"],"range":["#e42313","#5c9b18"]},"legend":null}}},
{"data":{"name":"cols"},"mark":{"type":"rect"},"encoding":{"x":{"field":"c","type":"ordinal","scale":{"range":[106.3,477.3]},"axis":null},"y":{"field":"k","type":"quantitative","scale":{"domain":[0,4],"range":[108.4,86]},"axis":null},"y2":{"datum":-0.25},"color":{"field":"k","type":"nominal","scale":{"domain":[0,1,2,3,4],"range":["#5668a0","#841a5f","#f76003","#8c8c8c","#031f0a"]},"legend":null}}},
{"data":{"name":"cols"},"mark":{"type":"rect","stroke":"#ffffff","strokeOpacity":0.1,"strokeWidth":0.5},"encoding":{"x":{"field":"c","type":"ordinal","scale":{"range":[106.3,477.3]},"axis":null},"y":{"datum":110,"type":"quantitative","scale":{"domain":[0,1261],"range":[0,1261]},"axis":null},"y2":{"datum":131},"color":{"field":"s","type":"nominal","scale":{"domain":["F","M"],"range":["#f5879c","#419ad6"]},"legend":null}}},
{"data":{"name":"cols"},"mark":{"type":"rule","color":"#222222","strokeWidth":0.7},"encoding":{"x":{"field":"c","type":"ordinal","scale":{"range":[106.3,477.3]},"axis":null},"y":{"datum":33.5,"type":"quantitative","scale":{"domain":[0,1261],"range":[0,1261]},"axis":null},"y2":{"datum":36.5}}},
{"data":{"name":"levels"},"mark":{"type":"rect"},"encoding":{"x":{"field":"v","type":"ordinal","scale":{"range":[105.3,477.7]},"axis":null},"y":{"datum":621.7,"type":"quantitative","scale":{"domain":[0,1261],"range":[0,1261]},"axis":null},"y2":{"datum":646},"color":{"field":"v","type":"ordinal","scale":{"domain":[1,2,3,4,5,6,7,8,9,10,11,12,13,14,15],"range":["#138d96","#1f949e","#389fa8","#83c7d0","#98d0d9","#b2dde3","#cee9ef","#ffffff","#ecd3e6","#ddb3d3","#cc9cc3","#bd83b5","#8f4484","#5f1253","#3c023d"]},"legend":null}}},
{"data":{"name":"boxes"},"mark":{"type":"rect"},"encoding":{"x":{"field":"x","type":"quantitative","scale":{"domain":[0,573],"range":[0,573]},"axis":null},"x2":{"field":"x2"},"y":{"field":"y","type":"quantitative","scale":{"domain":[0,1261],"range":[0,1261]},"axis":null},"y2":{"field":"y2"},"color":{"field":"cat","type":"nominal","scale":{"domain":["MHO","MUO","1","2","3","4","F","M","PL","CE","CMR","band"],"range":["#e42313","#5c9b18","#841a5f","#f76003","#8c8c8c","#031f0a","#f5879c","#419ad6","#06073f","#850505","#fdad22","#138d96"]},"legend":null}}},
{"data":{"name":"overall"},"mark":{"type":"rect","stroke":"#000000","strokeWidth":1.2},"encoding":{"x":{"field":"x","type":"quantitative","scale":{"domain":[0,573],"range":[0,573]},"axis":null},"x2":{"field":"x2"},"y":{"field":"y","type":"quantitative","scale":{"domain":[0,1261],"range":[0,1261]},"axis":null},"y2":{"field":"y2"},"color":{"field":"cat","type":"nominal","scale":{"domain":["MHO","MUO"],"range":["#e42313","#5c9b18"]},"legend":null}}},
{"data":{"name":"gaps"},"mark":{"type":"rule","color":"#ffffff","strokeWidth":1.3,"opacity":0.85},"encoding":{"x":{"field":"x","type":"quantitative","scale":{"domain":[0,573],"range":[0,573]},"axis":null},"x2":{"field":"x2"},"y":{"field":"y","type":"quantitative","scale":{"domain":[0,1261],"range":[0,1261]},"axis":null},"y2":{"field":"y2"}}},
{"data":{"name":"segs"},"mark":{"type":"rule","color":"#222222","strokeWidth":1},"encoding":{"x":{"field":"x","type":"quantitative","scale":{"domain":[0,573],"range":[0,573]},"axis":null},"x2":{"field":"x2"},"y":{"field":"y","type":"quantitative","scale":{"domain":[0,1261],"range":[0,1261]},"axis":null},"y2":{"field":"y2"}}},
{"data":{"name":"rightLabels"},"mark":{"type":"text","align":"right","baseline":"middle","fontSize":16},"encoding":{"text":{"field":"t"},"x":{"field":"x","type":"quantitative","scale":{"domain":[0,573],"range":[0,573]},"axis":null},"y":{"field":"y","type":"quantitative","scale":{"domain":[0,1261],"range":[0,1261]},"axis":null}}},
{"data":{"name":"leftLabels"},"mark":{"type":"text","align":"left","baseline":"middle","fontSize":16},"encoding":{"text":{"field":"t"},"x":{"field":"x","type":"quantitative","scale":{"domain":[0,573],"range":[0,573]},"axis":null},"y":{"field":"y","type":"quantitative","scale":{"domain":[0,1261],"range":[0,1261]},"axis":null}}},
{"data":{"values":[{"t":"p","x":32,"y":591}]},"mark":{"type":"text","align":"left","baseline":"middle","fontSize":16,"fontStyle":"italic"},"encoding":{"text":{"field":"t"},"x":{"field":"x","type":"quantitative","scale":{"domain":[0,573],"range":[0,573]},"axis":null},"y":{"field":"y","type":"quantitative","scale":{"domain":[0,1261],"range":[0,1261]},"axis":null}}},
{"data":{"name":"centerLabels"},"mark":{"type":"text","align":"center","baseline":"middle","fontSize":16},"encoding":{"text":{"field":"t"},"x":{"field":"x","type":"quantitative","scale":{"domain":[0,573],"range":[0,573]},"axis":null},"y":{"field":"y","type":"quantitative","scale":{"domain":[0,1261],"range":[0,1261]},"axis":null}}},
{"data":{"name":"vennLabels"},"mark":{"type":"text","align":"center","baseline":"middle","fontSize":10.4},"encoding":{"text":{"field":"t"},"x":{"field":"x","type":"quantitative","scale":{"domain":[0,573],"range":[0,573]},"axis":null},"y":{"field":"y","type":"quantitative","scale":{"domain":[0,1261],"range":[0,1261]},"axis":null}}}
]}
